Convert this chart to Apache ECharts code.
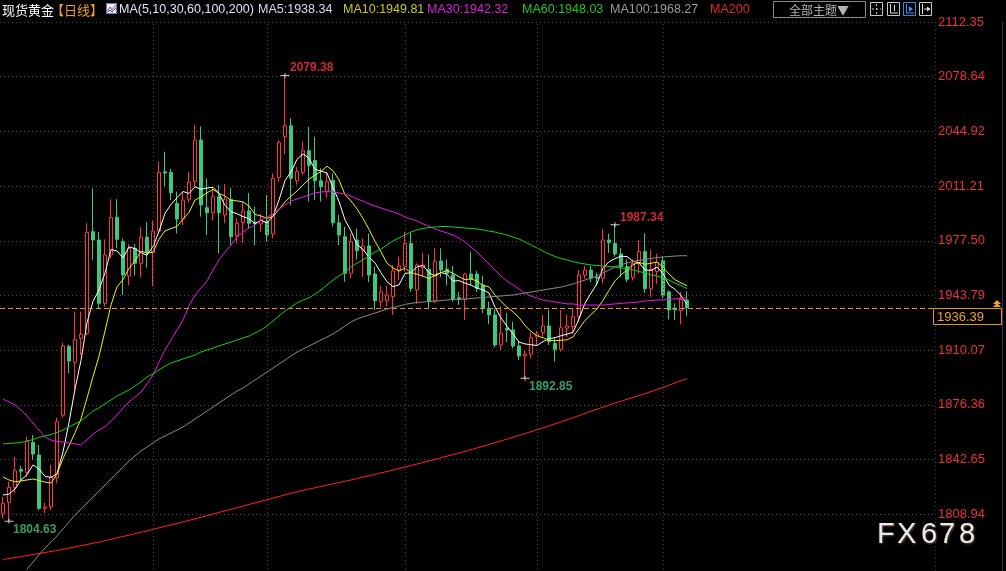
<!DOCTYPE html>
<html>
<head>
<meta charset="utf-8">
<title>现货黄金 日线</title>
<script src="https://cdn.jsdelivr.net/npm/echarts@6.0.0/dist/echarts.min.js"></script>
<style>
  html, body { margin: 0; padding: 0; background: #000; }
  #chart { width: 1006px; height: 571px; }
</style>
</head>
<body>
<div id="chart"></div>
<script>
// ---- Daily OHLC of spot gold ----
const opens = [1809.6,1816.3,1825.6,1836.5,1834.8,1853.3,1845.5,1812.6,1813.5,1831.5,
  1870.0,1912.3,1902.4,1917.4,1920.5,1983.1,1978.0,1939.0,1968.8,1992.0,
  1977.0,1955.8,1972.9,1963.6,1979.7,1970.2,1983.5,2020.0,2019.7,2000.6,
  1990.9,2003.1,2014.0,2039.6,1997.9,1994.8,2004.7,1993.4,2003.1,1980.6,
  1988.7,1995.9,1989.0,1987.9,1989.3,1981.7,2016.6,2041.7,2048.4,2014.5,
  2019.7,2033.0,2027.0,2014.5,2007.8,2014.8,1988.6,1980.0,1957.5,1978.0,
  1971.4,1974.3,1957.0,1940.0,1940.6,1943.1,1959.5,1961.5,1975.9,1947.2,
  1961.0,1960.0,1940.0,1965.0,1960.0,1956.4,1942.4,1941.4,1957.0,1957.0,
  1950.2,1935.9,1931.8,1913.3,1923.5,1922.5,1912.7,1906.5,1907.6,1918.4,
  1920.9,1925.0,1914.3,1910.6,1923.6,1924.6,1931.0,1956.4,1959.5,1955.0,
  1954.4,1978.0,1975.9,1969.4,1961.5,1955.0,1963.6,1970.8,1948.0,1958.5,
  1965.2,1946.0,1935.9,1934.4,1941.0];
const closes = [1815.7,1825.6,1835.8,1835.5,1854.1,1846.1,1812.6,1813.5,1832.0,1866.0,
  1912.7,1903.4,1916.8,1919.9,1982.7,1978.0,1939.0,1968.8,1992.0,1978.4,
  1956.5,1972.9,1963.6,1979.7,1970.2,1983.5,2019.5,2019.3,2007.1,1990.9,
  2002.6,2013.6,2039.6,1999.6,1994.8,2004.7,1994.8,2003.1,1980.0,1988.3,
  1995.9,1988.3,1988.0,1989.9,1981.1,2016.0,2038.0,2048.4,2016.0,2020.1,
  2033.0,2024.0,2014.5,2010.8,2013.9,1988.6,1981.1,1957.5,1977.0,1971.4,
  1974.3,1956.4,1940.6,1946.1,1944.1,1958.9,1962.0,1975.9,1948.2,1962.6,
  1962.6,1940.0,1965.0,1959.5,1957.5,1941.4,1941.4,1957.0,1953.8,1948.2,
  1935.9,1931.8,1913.3,1920.5,1922.5,1912.7,1906.5,1907.5,1918.0,1920.1,
  1925.0,1915.3,1910.6,1923.9,1925.0,1930.7,1956.4,1959.5,1954.4,1954.5,
  1978.0,1976.4,1969.4,1961.5,1953.8,1963.6,1970.8,1948.0,1960.0,1964.0,
  1944.1,1934.9,1934.9,1941.4,1936.39];
const lows = [1806.5,1804.63,1821.9,1830.0,1832.1,1842.4,1811.6,1809.6,1811.5,1828.0,
  1868.5,1895.8,1886.0,1907.1,1919.4,1965.7,1935.9,1936.9,1966.7,1972.9,
  1944.1,1950.0,1956.0,1955.0,1961.0,1949.6,1982.0,2011.0,2002.6,1982.1,
  1987.2,2001.0,2010.8,1992.4,1981.1,1990.0,1969.8,1988.3,1975.0,1976.3,
  1976.3,1985.0,1974.9,1983.0,1977.0,1979.0,2014.0,2031.0,1999.6,2012.0,
  2018.1,2001.6,2002.6,2001.6,2004.0,1986.2,1974.9,1952.3,1954.4,1966.0,
  1955.4,1952.0,1934.9,1936.5,1937.3,1931.8,1953.3,1958.5,1946.1,1938.6,
  1955.0,1936.0,1939.0,1955.0,1950.0,1940.0,1938.0,1928.7,1950.0,1946.0,
  1933.0,1926.0,1911.9,1910.2,1915.0,1911.2,1904.0,1892.85,1905.0,1913.0,
  1918.4,1913.3,1903.0,1909.2,1918.0,1920.0,1927.7,1954.0,1952.0,1950.0,
  1951.3,1970.0,1967.7,1955.0,1952.0,1953.0,1957.0,1945.5,1943.0,1951.0,
  1942.0,1929.0,1928.7,1926.0,1931.0];
const highs = [1819.8,1829.0,1844.4,1838.7,1856.8,1857.8,1851.7,1816.0,1839.3,1868.5,
  1914.7,1913.5,1933.8,1933.8,1988.3,2009.9,1983.0,1978.4,2003.1,2003.1,
  1979.0,1975.5,1975.6,1985.8,1989.0,1989.9,2026.3,2032.4,2021.7,2007.8,
  2007.8,2020.0,2048.9,2047.9,2016.0,2010.0,2011.9,2012.5,2010.0,1991.3,
  2001.6,2007.0,1998.6,1994.0,2005.7,2019.1,2039.6,2079.38,2053.0,2023.0,
  2038.6,2047.8,2041.7,2022.2,2020.0,2019.1,1993.4,1986.2,1982.1,1985.0,
  1979.0,1982.0,1961.5,1949.6,1949.6,1962.6,1967.7,1983.1,1982.3,1963.6,
  1970.2,1969.0,1972.9,1972.9,1966.0,1962.0,1946.0,1957.8,1970.8,1959.0,
  1956.0,1940.0,1935.3,1936.9,1932.9,1927.7,1915.3,1910.0,1921.0,1922.0,
  1931.8,1934.8,1917.4,1934.8,1932.0,1936.0,1959.5,1962.0,1962.0,1958.0,
  1984.6,1982.0,1987.34,1973.0,1966.0,1966.0,1978.0,1982.1,1972.0,1969.6,
  1968.0,1947.0,1939.0,1946.0,1946.4];

// ---- Moving averages ----
// leading MA5 / MA10 points whose window starts before the first bar
const ma5Head = [1820.8,1821.4,1824.5,1830.1];
const ma10Head = [1831.9,1830.1,1829.0,1829.5,1830.1,1830.7,1829.8,1828.8,1828.2];
const ma30 = [1880.0,1878.2,1876.3,1873.2,1869.5,1865.2,1860.9,1856.6,1854.7,1853.7,
  1853.5,1852.9,1852.3,1851.6,1854.7,1858.4,1860.9,1862.8,1866.5,1870.1,
  1874.5,1878.2,1881.2,1884.3,1889.3,1894.8,1902.8,1910.2,1916.4,1922.5,
  1928.7,1937.3,1944.1,1948.4,1952.7,1959.5,1965.7,1970.6,1974.9,1979.8,
  1982.9,1985.4,1987.2,1990.3,1992.2,1994.0,1997.1,1999.6,2002.0,2003.3,
  2004.5,2005.7,2007.0,2007.6,2007.8,2007.6,2007.0,2006.3,2005.1,2003.3,
  2002.0,2000.2,1998.9,1997.7,1996.5,1995.3,1994.0,1992.2,1990.9,1989.7,
  1987.9,1986.6,1984.8,1983.5,1982.3,1981.1,1979.2,1976.8,1973.7,1970.6,
  1966.9,1963.2,1959.5,1955.8,1952.7,1950.3,1947.8,1945.3,1943.5,1942.2,
  1941.0,1940.4,1939.8,1939.2,1938.6,1938.6,1937.9,1937.9,1937.9,1937.9,
  1937.9,1938.3,1938.6,1938.9,1939.2,1939.5,1939.8,1940.4,1940.7,1941.0,
  1941.0,1941.4,1941.7,1942.0,1942.32];
const ma60 = [1852.3,1852.6,1852.9,1853.2,1854.1,1855.0,1856.3,1857.2,1858.1,1859.4,
  1860.9,1862.8,1864.6,1866.5,1869.5,1872.6,1874.5,1877.0,1879.4,1881.9,
  1883.7,1885.6,1888.0,1890.5,1893.6,1895.4,1897.9,1900.3,1902.2,1903.4,
  1904.7,1905.9,1907.1,1909.0,1910.2,1911.4,1912.7,1913.9,1915.1,1916.4,
  1917.6,1918.8,1920.7,1922.5,1925.0,1928.1,1931.2,1934.2,1936.7,1939.2,
  1941.0,1942.3,1944.7,1947.2,1950.3,1953.3,1955.8,1958.3,1961.4,1963.8,
  1965.7,1968.1,1970.6,1972.4,1974.9,1977.4,1979.2,1981.1,1982.9,1984.2,
  1985.1,1985.7,1986.0,1986.3,1986.3,1986.0,1985.7,1985.4,1985.1,1984.8,
  1984.2,1983.5,1982.9,1982.0,1981.1,1979.8,1978.6,1976.8,1974.9,1973.1,
  1971.2,1969.4,1967.8,1966.6,1965.7,1964.7,1963.8,1963.2,1962.6,1962.3,
  1962.0,1961.7,1961.4,1960.7,1960.4,1959.5,1958.6,1957.7,1956.4,1955.8,
  1954.6,1953.3,1951.5,1949.9,1948.03];
const ma100 = [1757.4,1761.7,1766.0,1770.3,1775.2,1779.5,1783.9,1788.2,1791.9,1795.6,
  1799.9,1804.2,1808.5,1812.2,1815.9,1819.6,1823.3,1827.0,1830.7,1834.4,
  1838.1,1841.8,1844.9,1848.0,1850.4,1852.9,1855.4,1857.2,1859.1,1860.9,
  1862.8,1865.2,1867.7,1870.1,1872.6,1875.1,1877.5,1880.0,1882.5,1884.9,
  1886.8,1889.3,1891.7,1894.2,1896.6,1899.1,1901.6,1904.0,1906.5,1908.9,
  1910.8,1912.7,1914.5,1916.4,1918.2,1920.1,1922.5,1925.0,1927.5,1929.3,
  1930.6,1931.8,1933.0,1934.2,1935.5,1936.4,1937.3,1938.3,1938.9,1939.5,
  1939.8,1940.1,1940.4,1940.7,1941.0,1941.3,1941.6,1941.6,1941.9,1942.3,
  1942.6,1942.9,1943.2,1943.5,1943.8,1944.1,1944.7,1945.3,1945.9,1946.6,
  1947.2,1947.8,1948.4,1949.0,1949.9,1950.9,1952.1,1953.3,1954.6,1955.8,
  1957.7,1959.5,1961.4,1962.6,1963.8,1964.7,1965.4,1966.0,1966.6,1967.2,
  1967.5,1967.8,1968.1,1968.3,1968.27];
const ma200 = [1781.1,1781.7,1782.3,1782.9,1783.5,1784.2,1784.8,1785.4,1786.0,1786.6,
  1787.4,1788.1,1788.8,1789.6,1790.3,1791.1,1791.8,1792.7,1793.5,1794.4,
  1795.3,1796.1,1797.0,1797.9,1798.7,1799.6,1800.6,1801.5,1802.4,1803.3,
  1804.3,1805.2,1806.1,1807.1,1808.1,1809.1,1810.1,1811.1,1812.0,1813.0,
  1814.0,1815.0,1816.0,1817.0,1817.9,1818.9,1819.9,1820.9,1821.9,1822.8,
  1823.7,1824.5,1825.3,1826.1,1826.9,1827.7,1828.5,1829.3,1830.1,1831.0,
  1831.9,1832.7,1833.6,1834.5,1835.3,1836.2,1837.2,1838.1,1839.0,1839.9,
  1840.9,1841.8,1842.8,1843.8,1844.8,1845.7,1846.7,1847.7,1848.8,1849.8,
  1850.9,1852.0,1853.1,1854.2,1855.3,1856.4,1857.6,1858.7,1859.9,1861.1,
  1862.2,1863.5,1864.7,1865.9,1867.2,1868.5,1869.8,1871.1,1872.4,1873.7,
  1875.0,1876.2,1877.5,1878.6,1879.8,1881.0,1882.1,1883.3,1884.6,1885.9,
  1887.1,1888.5,1889.9,1891.2,1892.6];

// ---- Axis ticks, annotations ----
const yTickLabels = ['1808.94','1842.65','1876.36','1910.07','1943.79','1977.50','2011.21','2044.92','2078.64','2112.35'];
const highMarks = [[47, 2079.38], [102, 1987.34]];
const lowMarks = [[1, 1804.63], [87, 1892.85]];
const monthStarts = [25, 44, 67, 89, 110];
const SLOTS = 156;   // visible bar slots, leaving empty room right of the last bar

const yFirst = parseFloat(yTickLabels[0]);
const yLast = parseFloat(yTickLabels[yTickLabels.length - 1]);
const yStep = (yLast - yFirst) / (yTickLabels.length - 1);
const yMin = yFirst - yStep;

function movingAvg(n, head) {
  return closes.map((c, i) => {
    if (i < n - 1) return head[i];
    let s = 0;
    for (let k = i - n + 1; k <= i; k++) s += closes[k];
    return +(s / n).toFixed(3);
  });
}
const ma5 = movingAvg(5, ma5Head);
const ma10 = movingAvg(10, ma10Head);

const candles = opens.map((o, i) => [o, closes[i], lows[i], highs[i]]);
const slots = Array.from({ length: SLOTS }, (_, i) => String(i));
const lastClose = closes[closes.length - 1];
const lastOf = a => a[a.length - 1].toFixed(2);

const UP = '#ff3542', DOWN = '#3ec87e';
const FONT = 'Liberation Sans, Arial, sans-serif';
const CJK = '"Noto Sans CJK SC", sans-serif';

function maSeries(name, data, color) {
  return {
    name, type: 'line', data, showSymbol: false, symbol: 'none',
    lineStyle: { width: 1, color }, silent: true, z: 3
  };
}

function txt(x, y, text, fill, font) {
  return { type: 'text', x, y, silent: true,
    style: { text, fill, font: font || ('12.5px ' + FONT), verticalAlign: 'middle' } };
}

// header row: instrument, period and the MA read-outs
const header = [
  txt(2, 10, '现货黄金', '#ffffff', '13px ' + CJK),
  txt(51, 10, '【日线】', '#f0a030', '13px ' + CJK),
  { type: 'rect', shape: { x: 106.5, y: 3.5, width: 10, height: 10 }, style: { fill: '#e8eef8', stroke: '#6080c0', lineWidth: 1 } },
  { type: 'polyline', shape: { points: [[107.5, 11], [110, 7], [112, 10], [116, 5]] }, style: { stroke: '#e03030', fill: null, lineWidth: 1 } },
  { type: 'polyline', shape: { points: [[107.5, 12.5], [110, 10], [112, 12], [116, 8]] }, style: { stroke: '#3050d0', fill: null, lineWidth: 1 } },
  txt(119, 10, 'MA(5,10,30,60,100,200)', '#dce6f8'),
  txt(258, 10, 'MA5:' + lastOf(ma5), '#d0def5'),
  txt(343, 10, 'MA10:' + lastOf(ma10), '#c8c81e'),
  txt(427, 10, 'MA30:' + lastOf(ma30), '#d823d8'),
  txt(522, 10, 'MA60:' + lastOf(ma60), '#22c322'),
  txt(610, 10, 'MA100:' + lastOf(ma100), '#9a9a9a'),
  txt(710, 10, 'MA200', '#e02828'),
  { type: 'rect', shape: { x: 773.5, y: 1.5, width: 92, height: 16 }, style: { fill: 'none', stroke: '#8a8a8a', lineWidth: 1 } },
  { type: 'text', x: 819, y: 10, style: { text: '全部主题▼', fill: '#b4b4b4', font: '12px ' + CJK, align: 'center', verticalAlign: 'middle' } },
  // toolbar buttons
  { type: 'rect', shape: { x: 870.5, y: 2.5, width: 12, height: 13 }, style: { fill: 'none', stroke: '#c8c8c8', lineWidth: 1 } },
  { type: 'polyline', shape: { points: [[876.5, 4], [876.5, 14]] }, style: { stroke: '#c8c8c8', lineWidth: 1, lineDash: [2, 2] } },
  { type: 'polyline', shape: { points: [[872, 9], [881, 9]] }, style: { stroke: '#c8c8c8', lineWidth: 1, lineDash: [2, 2] } },
  { type: 'rect', shape: { x: 887.5, y: 2.5, width: 12, height: 13 }, style: { fill: 'none', stroke: '#c8c8c8', lineWidth: 1 } },
  { type: 'polyline', shape: { points: [[890.5, 4], [890.5, 13], [898, 13]] }, style: { stroke: '#e0e0e0', fill: null, lineWidth: 1 } },
  { type: 'polyline', shape: { points: [[894.5, 5], [894.5, 11]] }, style: { stroke: '#e0e0e0', lineWidth: 1 } },
  { type: 'rect', shape: { x: 903.5, y: 2.5, width: 12, height: 13 }, style: { fill: 'none', stroke: '#2f8ae0', lineWidth: 1 } },
  { type: 'polyline', shape: { points: [[906.5, 4], [906.5, 13], [914, 13]] }, style: { stroke: '#3a9af0', fill: null, lineWidth: 1 } },
  { type: 'polygon', shape: { points: [[909, 6], [913, 9], [909, 12]] }, style: { fill: '#3a9af0' } },
  { type: 'rect', shape: { x: 919.5, y: 2.5, width: 12, height: 13 }, style: { fill: 'none', stroke: '#c8c8c8', lineWidth: 1 } },
  { type: 'polyline', shape: { points: [[922.5, 4], [922.5, 14]] }, style: { stroke: '#e0e0e0', lineWidth: 1 } },
  { type: 'polyline', shape: { points: [[924, 9], [930, 9]] }, style: { stroke: '#e0e0e0', lineWidth: 1 } },
  { type: 'polygon', shape: { points: [[927, 6.5], [930.5, 9], [927, 11.5]] }, style: { fill: '#e0e0e0' } },
  // frame lines at the price scale
  { type: 'line', shape: { x1: 935.5, y1: 22, x2: 935.5, y2: 571 }, style: { stroke: '#3c3c3c', lineWidth: 1, lineDash: [1, 3] } },
  { type: 'line', shape: { x1: 1002.5, y1: 22, x2: 1002.5, y2: 571 }, style: { stroke: '#3a3a3a', lineWidth: 1 } }
];

// brand mark, bottom right
const brand = ['F', 'X', '6', '7', '8'].map((ch, k) => ({
  type: 'text', x: [877, 897, 921, 939, 959][k], y: 535, silent: true,
  style: { text: ch, fill: '#e4ebf2', font: '29px ' + FONT, verticalAlign: 'middle',
    textShadowColor: 'rgba(120,80,40,0.9)', textShadowBlur: 2, textShadowOffsetX: 1, textShadowOffsetY: 1 }
}));

const chart = echarts.init(document.getElementById('chart'), null, { renderer: 'canvas' });

const option = {
  backgroundColor: '#000000',
  animation: false,
  grid: { left: 0, right: 70, top: 22, bottom: 2, containLabel: false },
  xAxis: {
    type: 'category', data: slots, boundaryGap: true,
    axisLine: { show: false }, axisTick: { show: false }, axisLabel: { show: false }, splitLine: { show: false }
  },
  yAxis: {
    type: 'value', position: 'right', min: yMin, max: yLast, interval: yStep,
    axisLine: { show: false }, axisTick: { show: false },
    axisLabel: {
      color: '#e8323c', fontSize: 13, fontFamily: FONT, margin: 2, showMinLabel: false,
      formatter: v => {
        const k = Math.round((v - yFirst) / yStep);
        return k >= 0 && k < yTickLabels.length ? yTickLabels[k] : '';
      }
    },
    splitLine: { show: true, showMinLine: false, lineStyle: { color: '#474747', width: 1, type: [1, 3] } }
  },
  series: [
    {
      name: 'K', type: 'candlestick', data: candles, barWidth: 4,
      itemStyle: { color: '#000000', color0: DOWN, borderColor: UP, borderColor0: DOWN, borderWidth: 1 },
      z: 2,
      markLine: {
        silent: true, symbol: 'none', animation: false,
        label: { show: false },
        lineStyle: { color: '#3c3c3c', type: [1, 3], width: 1 },
        data: monthStarts.map(i => ({ xAxis: i }))
      }
    },
    maSeries('MA5', ma5, '#ffffff'),
    maSeries('MA10', ma10, '#f2f200'),
    maSeries('MA30', ma30, '#ee10ee'),
    maSeries('MA60', ma60, '#10d410'),
    maSeries('MA100', ma100, '#8a8a8a'),
    maSeries('MA200', ma200, '#ff2222'),
    {
      name: 'highs', type: 'scatter', data: highMarks, z: 5, silent: true,
      symbol: 'path://M0,2h9v1h-9zM4,0h1v5h-1z', symbolSize: [9, 5], itemStyle: { color: '#ffffff' },
      label: { show: true, position: [9.5, -11], formatter: p => p.value[1].toFixed(2),
        color: '#ff3344', fontSize: 12, fontWeight: 'bold', fontFamily: FONT }
    },
    {
      name: 'lows', type: 'scatter', data: lowMarks, z: 5, silent: true,
      symbol: 'path://M0,2h9v1h-9zM4,0h1v5h-1z', symbolSize: [9, 5], itemStyle: { color: '#ffffff' },
      label: { show: true, position: [8.5, 5], formatter: p => p.value[1].toFixed(2),
        color: '#46c383', fontSize: 12, fontWeight: 'bold', fontFamily: FONT }
    }
  ],
  graphic: header.concat(brand)
};

chart.setOption(option);

// last-price line and tag on the price scale
const py = Math.round(chart.convertToPixel({ yAxisIndex: 0 }, lastClose));
const tag = [
  { type: 'line', z: 9, silent: true, shape: { x1: 0, y1: py + 0.5, x2: 933, y2: py + 0.5 },
    style: { stroke: '#f08a1c', lineWidth: 1, lineDash: [5, 3] } },
  { type: 'rect', shape: { x: 933.5, y: py + 0.5, width: 68, height: 16 }, style: { fill: '#000', stroke: '#e8961e', lineWidth: 1 }, z: 10 },
  { type: 'text', x: 937, y: py + 9, z: 11, style: { text: lastClose.toFixed(2), fill: '#f0a030', font: '13px ' + FONT, verticalAlign: 'middle' } },
  { type: 'polygon', shape: { points: [[993, py - 4], [997, py - 8], [1001, py - 4]] }, style: { fill: '#f0a030' }, z: 11 },
  { type: 'polygon', shape: { points: [[993, py - 1], [997, py - 5], [1001, py - 1]] }, style: { fill: '#f0a030' }, z: 11 }
];
chart.setOption({ graphic: header.concat(brand, tag) });
</script>
</body>
</html>
